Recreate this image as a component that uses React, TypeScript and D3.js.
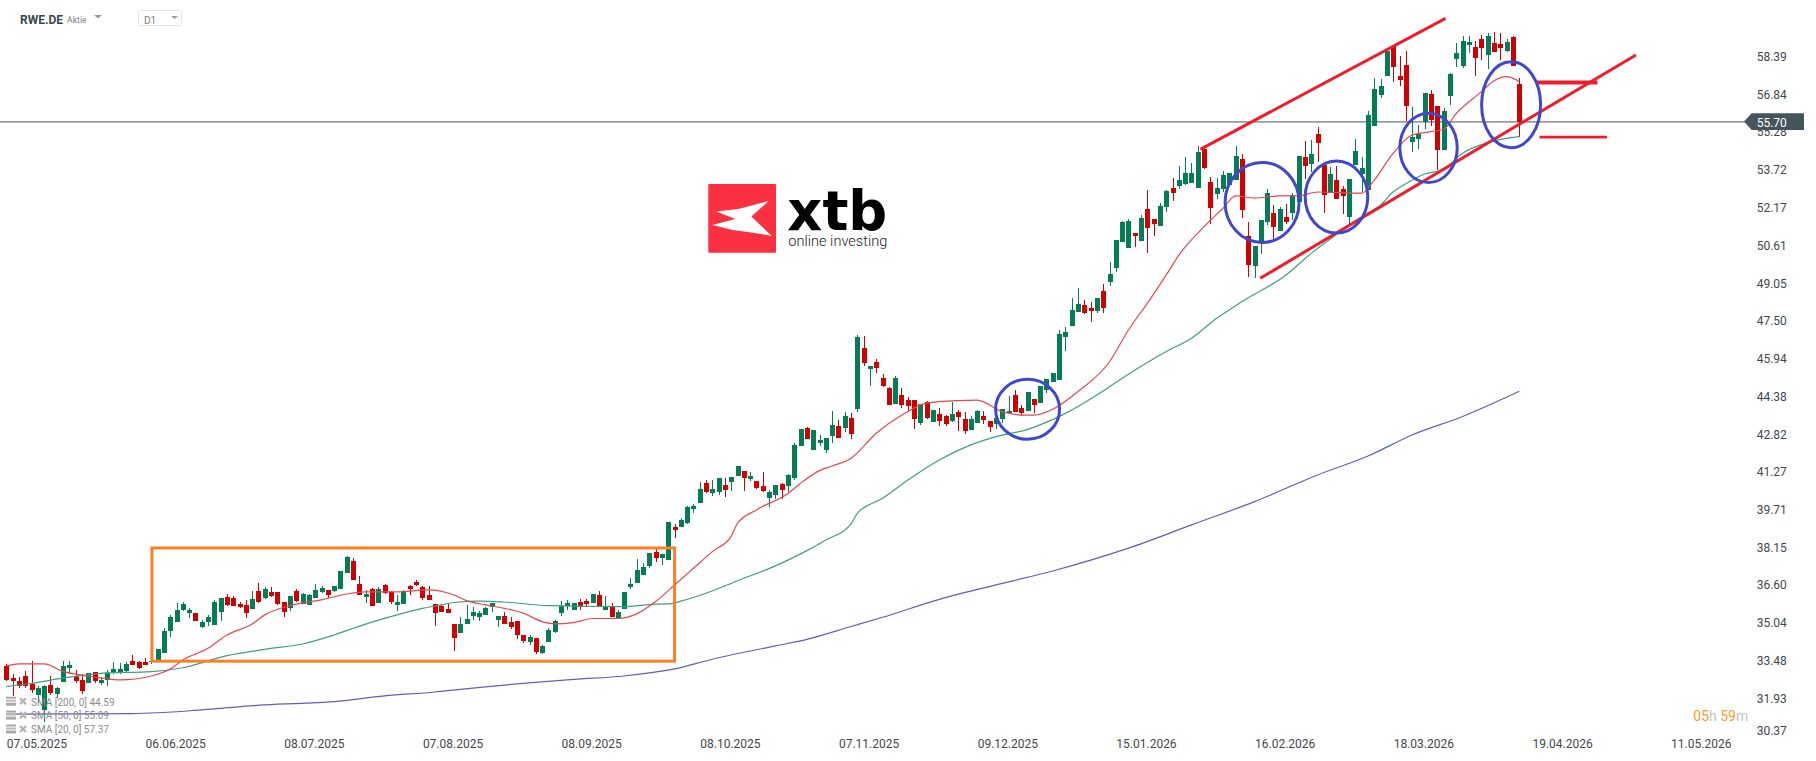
import * as d3 from "d3";
import { useEffect, useRef } from "react";

const opens = [
  33.26,32.77,32.63,32.85,32.52,32.07,31.45,32.48,32.11,32.60,
  33.18,32.85,32.69,32.56,33.02,32.58,32.69,33.00,33.00,33.06,
  33.47,33.43,33.43,33.44,33.51,33.80,34.71,35.08,35.57,35.45,
  35.45,34.87,35.08,34.96,35.49,36.11,36.07,35.82,35.78,35.61,
  36.36,36.07,36.32,36.32,35.90,35.66,36.36,35.82,35.78,36.07,
  36.32,36.40,36.36,36.44,37.10,37.59,36.65,36.11,36.44,35.86,
  36.60,36.32,35.78,35.82,36.56,36.73,36.52,36.19,35.82,35.74,
  35.61,35.00,34.64,35.00,35.33,35.29,35.37,35.70,35.16,35.33,
  35.08,35.12,34.54,34.25,34.42,33.80,34.25,34.67,35.45,35.74,
  35.57,35.90,35.94,35.86,36.19,35.57,35.72,35.24,35.61,36.52,
  36.69,37.02,37.39,37.96,37.72,37.64,39.00,39.00,39.16,39.74,
  39.99,40.81,40.40,40.44,40.73,40.85,41.10,41.30,40.98,40.89,
  40.69,40.19,40.32,40.77,40.69,41.02,42.34,43.08,42.17,42.46,
  42.17,42.75,43.16,43.08,43.49,43.86,46.38,45.51,45.80,45.14,
  44.73,44.07,44.44,44.23,44.23,43.28,44.15,43.33,43.66,43.57,
  43.37,43.74,43.45,42.99,43.28,43.57,43.37,43.24,43.45,43.68,
  44.44,43.90,43.78,44.27,44.11,44.65,44.98,45.06,46.83,47.28,
  47.86,48.15,48.03,47.90,48.73,49.10,49.68,50.75,50.50,51.12,
  50.79,52.11,51.70,51.41,52.19,52.97,53.06,53.14,53.18,52.97,
  54.58,53.22,52.73,52.93,53.10,53.30,54.17,50.99,49.76,50.75,
  51.57,51.94,51.20,51.78,51.94,52.40,54.25,53.97,55.20,53.92,
  52.77,53.30,52.93,51.78,53.92,53.55,52.89,55.53,56.81,57.59,
  58.83,57.59,58.05,54.87,55.00,55.70,56.85,56.36,54.54,56.77,
  58.30,58.01,58.87,58.79,59.12,58.46,58.96,58.91,58.62,59.20,
  57.26,
];

const closes = [
  32.69,32.63,32.45,32.45,32.27,32.36,32.44,32.15,32.36,33.26,
  33.30,32.65,32.23,32.96,32.65,32.69,32.96,33.14,33.14,33.35,
  33.30,33.18,33.30,33.48,33.97,34.71,35.29,35.57,35.82,35.57,
  35.12,35.08,35.29,35.90,36.07,35.78,35.74,35.70,35.45,36.03,
  35.90,36.44,36.15,35.82,35.49,36.15,35.94,36.23,36.19,36.40,
  36.48,36.19,36.56,37.18,37.76,36.81,36.19,36.23,35.74,36.44,
  36.27,35.90,35.90,36.36,36.44,36.60,36.07,35.99,35.45,35.49,
  35.45,34.42,35.00,35.20,35.49,35.45,35.66,35.86,35.33,35.00,
  34.87,34.54,34.30,34.46,33.84,34.09,34.75,35.12,35.74,35.86,
  35.86,35.70,35.82,36.23,35.70,35.74,35.28,35.49,36.32,36.65,
  37.22,37.35,37.92,37.72,37.88,39.20,38.87,39.29,39.82,39.86,
  40.56,40.44,40.56,41.02,40.52,41.06,41.51,41.02,41.10,40.60,
  40.48,40.44,40.73,40.52,41.14,42.38,43.02,42.62,42.99,42.58,
  42.67,43.20,42.67,43.57,42.83,46.83,45.76,45.64,45.55,44.81,
  44.03,45.14,44.03,43.98,43.45,44.07,43.49,43.82,43.37,43.24,
  43.66,43.53,42.95,43.45,43.78,43.41,43.12,43.49,43.86,43.78,
  43.74,43.70,44.56,44.03,44.81,45.10,45.35,46.96,47.04,47.94,
  48.19,47.82,47.90,48.44,48.03,49.43,50.83,51.57,51.61,50.99,
  51.74,51.33,51.49,52.23,52.85,52.77,53.31,53.59,53.59,54.46,
  53.80,52.15,52.97,53.51,53.59,54.29,52.07,49.80,50.58,51.66,
  52.77,51.37,52.11,51.57,52.69,54.29,53.88,54.38,54.83,52.69,
  53.55,52.52,52.65,53.35,54.50,53.80,55.99,57.06,57.18,58.62,
  57.96,57.43,56.36,55.08,55.20,56.89,55.78,54.54,56.15,57.68,
  58.54,59.04,58.99,58.34,58.75,59.24,58.58,58.75,58.99,58.01,
  55.70,
];

const highs = [
  33.33,32.93,32.80,33.06,33.47,32.45,32.48,32.85,32.39,33.47,
  33.47,33.10,32.93,32.96,33.02,32.82,33.10,33.41,33.37,33.41,
  33.72,33.47,33.60,33.51,33.97,34.82,35.37,35.85,35.90,35.66,
  35.45,35.16,35.37,35.99,36.07,36.23,36.15,35.90,35.99,36.37,
  36.69,36.52,36.52,36.32,35.90,36.15,36.44,36.27,36.23,36.65,
  36.56,36.40,36.56,37.18,37.80,37.72,36.98,36.40,36.48,36.52,
  36.65,36.36,36.19,36.40,36.60,36.81,36.56,36.56,35.82,35.82,
  35.82,35.00,35.30,35.78,35.70,35.53,35.70,35.86,35.33,35.49,
  35.28,35.12,34.54,34.54,34.42,34.13,34.83,35.16,35.94,35.99,
  35.86,36.03,36.03,36.23,36.36,36.15,35.86,35.57,36.32,36.89,
  37.68,37.51,37.92,38.09,37.88,39.20,39.12,39.37,39.86,39.94,
  40.85,40.93,40.93,41.02,41.02,41.06,41.51,41.30,41.26,40.89,
  41.26,40.52,40.73,40.81,41.18,42.46,43.02,43.12,42.99,42.79,
  42.67,43.78,43.41,43.74,43.70,46.91,46.87,45.64,45.92,45.31,
  44.77,45.22,44.73,44.36,44.23,44.07,44.19,43.82,43.90,43.61,
  44.15,43.82,43.74,43.57,43.82,43.78,43.37,43.78,43.86,44.40,
  44.65,44.03,44.56,44.27,44.81,45.10,45.35,47.12,47.24,48.44,
  48.85,48.36,48.27,48.44,49.02,49.92,50.83,51.61,51.70,51.12,
  51.86,52.89,51.70,52.36,52.89,53.39,53.88,54.25,54.01,54.71,
  54.58,53.43,53.39,53.67,53.59,54.71,54.38,51.57,50.58,51.66,
  52.93,52.27,52.19,52.32,52.77,54.29,54.91,54.95,55.50,53.92,
  53.84,53.88,53.06,53.35,54.99,54.25,56.15,57.51,57.47,58.62,
  58.83,58.42,58.62,56.32,55.57,56.89,57.02,56.36,56.27,57.72,
  58.96,59.24,59.24,59.04,59.29,59.37,59.41,59.37,59.12,59.24,
  57.51,
];

const lows = [
  32.66,32.03,32.37,32.37,32.16,31.72,30.97,32.07,31.93,32.60,
  32.93,32.55,32.11,32.55,32.55,32.48,32.44,32.93,32.93,33.00,
  33.29,33.14,33.29,33.33,33.51,33.80,34.46,35.08,35.53,35.24,
  35.12,34.83,34.91,34.96,35.12,35.74,35.74,35.66,35.24,35.61,
  35.86,36.03,36.11,35.78,35.29,35.53,35.90,35.82,35.78,36.07,
  36.27,36.07,36.32,36.44,37.10,36.81,36.19,35.86,35.74,35.86,
  36.23,35.82,35.53,35.82,36.19,36.56,35.99,35.99,34.91,35.49,
  35.45,33.88,34.64,35.00,35.16,35.12,35.37,35.49,34.87,35.00,
  34.79,34.38,34.21,34.13,33.76,33.76,34.25,34.62,35.33,35.57,
  35.57,35.57,35.74,35.86,35.70,35.57,35.28,35.20,35.61,36.44,
  36.69,37.02,37.31,37.55,37.43,37.64,38.54,39.00,39.12,39.57,
  39.99,40.40,40.27,40.32,40.23,40.48,41.10,40.48,40.89,40.56,
  40.44,39.82,40.15,40.15,40.44,40.93,42.34,42.62,42.17,42.34,
  42.05,42.46,42.67,42.91,42.62,43.74,45.64,44.81,45.35,44.77,
  44.03,44.07,43.90,43.78,43.04,43.20,43.45,43.33,43.16,43.16,
  43.33,42.95,42.83,42.99,43.28,43.24,42.91,43.04,43.28,43.68,
  43.74,43.57,43.78,43.70,44.11,44.52,44.98,45.06,46.25,47.28,
  47.86,47.78,47.45,47.82,47.82,48.93,49.51,50.75,50.50,50.54,
  50.79,50.29,50.99,51.41,51.98,52.44,52.93,53.10,53.18,52.97,
  53.76,51.49,52.52,52.81,53.10,53.30,51.74,49.31,49.26,50.25,
  51.45,50.87,51.20,51.49,51.66,52.40,53.35,53.64,54.05,51.94,
  52.77,52.52,51.90,51.49,53.92,52.81,52.89,55.53,56.69,57.59,
  57.35,57.18,55.74,54.46,54.58,55.41,55.53,53.72,54.54,56.40,
  57.97,57.92,58.54,57.59,58.25,57.88,58.58,58.25,58.58,58.01,
  55.08,
];

const sma20: [number, number][] = [
  [0,33.26],[2,33.35],[6,33.35],[9,33.04],[12,32.88],[15,32.77],[18,32.69],[23,32.85],[26,33.14],[28,33.51],
  [32,33.99],[35,34.54],[39,34.99],[41,35.37],[46,35.81],[50,35.99],[54,36.23],[57,36.32],[62,36.32],[67,36.40],
  [71,36.19],[73,35.96],[76,35.78],[79,35.64],[82,35.44],[85,35.09],[87,35.00],[90,35.05],[93,35.22],[97,35.22],
  [100,35.41],[103,35.92],[106,36.60],[109,37.29],[112,37.98],[115,38.62],[116,39.15],[119,39.70],[124,40.38],[126,40.80],
  [129,41.32],[131,41.51],[134,41.83],[138,42.86],[142,43.60],[146,44.10],[151,44.21],[154,44.23],[158,43.75],[161,43.61],
  [163,43.61],[166,43.85],[170,44.58],[175,45.81],[178,47.12],[181,48.22],[184,49.39],[186,50.21],[190,51.38],[193,52.14],
  [195,52.65],[198,52.56],[202,52.65],[205,52.65],[208,52.81],[215,52.76],[217,53.30],[220,54.41],[223,55.16],[226,55.30],
  [228,55.40],[230,56.05],[234,56.95],[236,57.40],[238,57.57],[240,57.37],
];

const sma50: [number, number][] = [
  [0,32.41],[4,32.55],[10,32.80],[15,32.96],[23,33.03],[28,33.19],[35,33.69],[41,33.95],[47,34.17],[52,34.54],
  [57,34.99],[62,35.37],[66,35.64],[69,35.78],[71,35.88],[75,35.94],[79,35.90],[86,35.75],[98,35.71],[103,35.81],
  [105,35.82],[107,35.94],[111,36.26],[116,36.78],[122,37.39],[127,38.02],[130,38.46],[134,39.12],[135,39.56],[139,40.18],
  [143,40.93],[148,41.76],[153,42.38],[157,42.72],[162,43.02],[168,43.68],[173,44.44],[177,45.13],[184,46.23],[188,46.78],
  [192,47.60],[196,48.29],[203,49.39],[207,50.28],[212,51.24],[216,51.95],[218,52.27],[220,52.82],[222,53.15],[225,53.55],
  [228,53.75],[231,54.41],[235,54.85],[240,55.09],
];

const sma200: [number, number][] = [
  [0,31.28],[20,31.30],[31,31.45],[41,31.66],[52,31.79],[60,32.03],[68,32.19],[72,32.30],[90,32.71],[98,32.85],
  [106,33.14],[112,33.54],[122,34.09],[127,34.36],[134,34.89],[139,35.27],[148,36.01],[158,36.67],[166,37.18],[178,38.12],
  [188,39.08],[198,40.04],[208,41.14],[216,41.92],[223,42.79],[231,43.55],[240,44.59],
];

const priceLabels = [58.39,56.84,55.28,53.72,52.17,50.61,49.05,47.5,45.94,44.38,42.82,41.27,39.71,38.15,36.6,35.04,33.48,31.93,30.37];
const dateLabels = ["07.05.2025","06.06.2025","08.07.2025","07.08.2025","08.09.2025","08.10.2025","07.11.2025","09.12.2025","15.01.2026","16.02.2026","18.03.2026","19.04.2026","11.05.2026"];
const dateIndex = dateLabels.map((_, i) => i * 22);
const lastPrice = 55.7;
const legendRows = ["SMA [200, 0] 44.59", "SMA [50, 0] 55.09", "SMA [20, 0] 57.37"];

// drawn annotations, in candle index / price
const channelLines = [
  [189.4, 54.57, 228.3, 59.97],
  [198.9, 49.25, 258.5, 58.46],
];
const levelLines = [
  [242.7, 252.4, 57.33, 4],
  [243.2, 253.9, 55.07, 2.8],
];
const circles = [
  [162.0, 43.85, 32, 30],
  [199.2, 52.38, 37, 40],
  [211.0, 52.6, 31.3, 36],
  [225.6, 54.63, 28.7, 34.7],
  [238.7, 56.41, 29.5, 43],
];
const rangeBox = { from: 23.1, to: 106, top: 38.13, bottom: 33.46 };

const UP = "#047d57";
const DOWN = "#d00000";
const FONT = "Roboto, sans-serif";

export default function App() {
  const svgRef = useRef<SVGSVGElement | null>(null);
  const width = 1816;
  const height = 761;

  useEffect(() => {
    if (!svgRef.current) return;
    const svg = d3.select(svgRef.current);
    svg.selectAll("*").remove();

    const x = d3.scaleLinear().domain([0, 240]).range([6.3, 1519.3]);
    const y = d3.scaleLinear().domain([33.48, 58.39]).range([660.7, 56.7]);

    // logo
    const logo = svg.append("g").attr("transform", "translate(708.3,184)");
    logo.append("rect").attr("width", 67.7).attr("height", 68.7).attr("rx", 1).attr("fill", "#fb3040");
    logo
      .append("path")
      .attr("d", "M8,27.5 L30,25 L60.5,17 L43,32.5 L63.5,52 L46.5,49 L24.5,46 L4,41 L27,35 Z")
      .attr("fill", "#fff");
    logo
      .append("text")
      .attr("x", 79)
      .attr("y", 45.5)
      .attr("font-family", "DejaVu Sans, sans-serif")
      .attr("font-weight", 700)
      .attr("font-size", 55)
      .attr("textLength", 100)
      .attr("lengthAdjust", "spacingAndGlyphs")
      .attr("fill", "#000")
      .text("xtb");
    logo
      .append("text")
      .attr("x", 80)
      .attr("y", 62)
      .attr("font-family", FONT)
      .attr("font-size", 15.5)
      .attr("font-weight", 300)
      .attr("textLength", 99)
      .attr("lengthAdjust", "spacingAndGlyphs")
      .attr("fill", "#222")
      .text("online investing");

    // header
    const head = svg.append("g").attr("font-family", FONT);
    head.append("text").attr("x", 20).attr("y", 23.5).attr("font-size", 12).attr("font-weight", 700).attr("fill", "#37474f").text("RWE.DE");
    head.append("text").attr("x", 67).attr("y", 22.5).attr("font-size", 8.5).attr("font-weight", 500).attr("fill", "#9a9a9a").text("Aktie");
    head.append("path").attr("d", "M94,15 L102,15 L98,18.5 Z").attr("fill", "#999");
    head.append("rect").attr("x", 138.5).attr("y", 10.5).attr("width", 43).attr("height", 15).attr("rx", 2).attr("fill", "#fff").attr("stroke", "#e2e2e2");
    head.append("text").attr("x", 144).attr("y", 23.5).attr("font-size", 10).attr("fill", "#808080").text("D1");
    head.append("path").attr("d", "M171,16 L178,16 L174.5,19 Z").attr("fill", "#999");

    // last price line
    svg.append("line").attr("x1", 0).attr("x2", 1745).attr("y1", y(lastPrice)).attr("y2", y(lastPrice)).attr("stroke", "#46545e").attr("stroke-width", 1);

    // axes
    const yAxis = d3
      .axisRight(y)
      .tickValues(priceLabels)
      .tickSize(0)
      .tickPadding(0)
      .tickFormat((d) => (d as number).toFixed(2));
    const yG = svg.append("g").attr("transform", "translate(1756.7,0)").call(yAxis);
    yG.select(".domain").remove();
    yG.selectAll("text").attr("font-family", FONT).attr("font-size", 12).attr("fill", "#3f474d");
    // lowest label gets pushed up by the date row
    yG.selectAll<SVGGElement, number>(".tick")
      .filter((d) => d === 30.37)
      .attr("transform", "translate(0,731.3)");

    const xAxis = d3
      .axisBottom(x)
      .tickValues(dateIndex)
      .tickSize(0)
      .tickPadding(0)
      .tickFormat((_, i) => dateLabels[i]);
    const xG = svg.append("g").attr("transform", "translate(0,739)").call(xAxis);
    xG.select(".domain").remove();
    xG.selectAll("text").attr("font-family", FONT).attr("font-size", 12).attr("fill", "#3f474d").attr("text-anchor", "start");

    // price tag
    svg
      .append("path")
      .attr("d", "M1744,121.6 L1751.7,113.3 L1804,113.3 L1804,130 L1751.7,130 Z")
      .attr("fill", "#46545e");
    svg
      .append("text")
      .attr("x", 1756.7)
      .attr("y", y(lastPrice) + 5)
      .attr("font-family", FONT)
      .attr("font-size", 12)
      .attr("fill", "#fff")
      .text(lastPrice.toFixed(2));

    // candles
    const candles = d3.range(opens.length);
    const candleG = svg.append("g").attr("shape-rendering", "crispEdges");
    candleG
      .selectAll(".wick")
      .data(candles)
      .enter()
      .append("line")
      .attr("class", "wick")
      .attr("x1", (i) => Math.round(x(i)) + 0.5)
      .attr("x2", (i) => Math.round(x(i)) + 0.5)
      .attr("y1", (i) => y(highs[i]))
      .attr("y2", (i) => y(lows[i]))
      .attr("stroke", (i) => (closes[i] >= opens[i] ? UP : DOWN));
    candleG
      .selectAll(".body")
      .data(candles)
      .enter()
      .append("rect")
      .attr("class", "body")
      .attr("x", (i) => Math.round(x(i)) - 2)
      .attr("width", 5)
      .attr("y", (i) => y(Math.max(opens[i], closes[i])))
      .attr("height", (i) => Math.max(1, Math.abs(y(opens[i]) - y(closes[i]))))
      .attr("fill", (i) => (closes[i] >= opens[i] ? UP : DOWN));

    // moving averages
    const line = d3
      .line<[number, number]>()
      .x((d) => x(d[0]))
      .y((d) => y(d[1]))
      .curve(d3.curveMonotoneX);
    svg.append("path").attr("d", line(sma200)).attr("fill", "none").attr("stroke", "#5a62b8").attr("stroke-width", 1.2);
    svg.append("path").attr("d", line(sma50)).attr("fill", "none").attr("stroke", "#3f9f7f").attr("stroke-width", 1.2);
    svg.append("path").attr("d", line(sma20)).attr("fill", "none").attr("stroke", "#e5484d").attr("stroke-width", 1.2);

    // annotations
    svg
      .append("rect")
      .attr("x", x(rangeBox.from))
      .attr("y", y(rangeBox.top))
      .attr("width", x(rangeBox.to) - x(rangeBox.from))
      .attr("height", y(rangeBox.bottom) - y(rangeBox.top))
      .attr("fill", "none")
      .attr("stroke", "#ff7f27")
      .attr("stroke-width", 3);
    svg
      .selectAll(".channel")
      .data(channelLines)
      .enter()
      .append("line")
      .attr("class", "channel")
      .attr("x1", (d) => x(d[0]))
      .attr("y1", (d) => y(d[1]))
      .attr("x2", (d) => x(d[2]))
      .attr("y2", (d) => y(d[3]))
      .attr("stroke", "#f01c2c")
      .attr("stroke-width", 3);
    svg
      .selectAll(".level")
      .data(levelLines)
      .enter()
      .append("line")
      .attr("class", "level")
      .attr("x1", (d) => x(d[0]))
      .attr("x2", (d) => x(d[1]))
      .attr("y1", (d) => y(d[2]))
      .attr("y2", (d) => y(d[2]))
      .attr("stroke", "#f01c2c")
      .attr("stroke-width", (d) => d[3]);
    svg
      .selectAll(".circle")
      .data(circles)
      .enter()
      .append("ellipse")
      .attr("class", "circle")
      .attr("cx", (d) => x(d[0]))
      .attr("cy", (d) => y(d[1]))
      .attr("rx", (d) => d[2])
      .attr("ry", (d) => d[3])
      .attr("fill", "none")
      .attr("stroke", "#3f48cc")
      .attr("stroke-width", 3);

    // legend
    const legend = svg
      .selectAll(".legend")
      .data(legendRows)
      .enter()
      .append("g")
      .attr("class", "legend")
      .attr("transform", (_, i) => `translate(6,${701.7 + i * 13.9})`);
    legend.append("rect").attr("x", 0).attr("y", -5).attr("width", 10).attr("height", 2).attr("fill", "#aaa");
    legend.append("rect").attr("x", 0).attr("y", -2).attr("width", 10).attr("height", 2).attr("fill", "#bbb");
    legend.append("rect").attr("x", 0).attr("y", 1).attr("width", 10).attr("height", 3).attr("fill", "#aaa");
    legend
      .append("path")
      .attr("d", "M14,-3.5 L20,2.5 M20,-3.5 L14,2.5")
      .attr("stroke", "#b4b4b4")
      .attr("stroke-width", 2.2);
    legend
      .append("text")
      .attr("x", 25)
      .attr("y", 3.8)
      .attr("font-family", FONT)
      .attr("font-size", 10)
      .attr("fill", "#8c8c8c")
      .text((d) => d);

    // countdown
    const timer = svg
      .append("text")
      .attr("x", 1693.3)
      .attr("y", 721)
      .attr("font-family", FONT)
      .attr("font-size", 14);
    timer.append("tspan").attr("fill", "#ff9a1f").text("05");
    timer.append("tspan").attr("fill", "#c4c4c4").text("h ");
    timer.append("tspan").attr("fill", "#ff9a1f").text("59");
    timer.append("tspan").attr("fill", "#c4c4c4").text("m");
  }, [svgRef]);

  return (
    <svg
      ref={svgRef}
      width={width}
      height={height}
      style={{ position: "absolute", left: 0, top: 0, background: "#fff" }}
    />
  );
}
